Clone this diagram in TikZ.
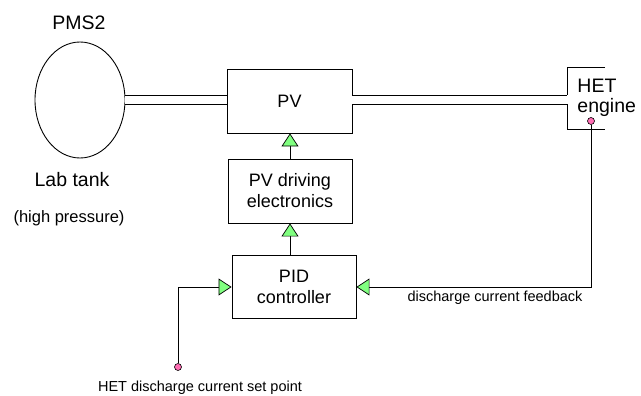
\documentclass[tikz,border=0pt]{standalone}
\usepackage{fontspec}
\setmainfont{Liberation Sans}
\usetikzlibrary{shapes.geometric,arrows.meta}
\definecolor{tappink}{RGB}{255,110,180}
\definecolor{tipgreen}{RGB}{128,255,128}

\begin{document}
\begin{tikzpicture}[x=1pt,y=-1pt,line width=0.9pt]%
        \tikzset{%
            blk/.style={draw, minimum width=125pt, minimum height=64pt, align=center, font=\fontsize{18}{21}\selectfont},
            lbl/.style={font=\fontsize{19.5}{22}\selectfont},
            sml/.style={font=\fontsize{14.5}{17}\selectfont},
            pipe/.style={double distance=8pt},
            feed/.style={-{Triangle[length=13pt,width=17pt,fill=tipgreen,line width=0.7pt]}},
            tap/.style={circle, draw, fill=tappink, inner sep=0pt, minimum size=7pt, line width=0.6pt},
        }%
        \useasboundingbox (0,0) rectangle (641,396);
        \node[ellipse, draw, minimum width=90pt, minimum height=116pt, inner sep=0pt] (tank) at (80,100) {};
        \node[blk] (pv) at (289.5,101) {PV};
        \node[blk, minimum width=124pt] (drv) at (290,191) {PV driving\\electronics};
        \node[blk, minimum width=124pt, minimum height=63pt] (pid) at (294,287) {PID\\controller};
        \coordinate (het) at (567,100);
        \node[tap] (fbtap) at (591,121) {};
        \node[tap] (sptap) at (178,367) {};
        % gas line
        \draw[pipe] (tank.east) -- (tank.east -| pv.west);
        \draw[pipe] (pv.east |- het) -- (het);
        \draw (605,67) -- (567,67) -- (567,95.5);
        \draw (567,104.5) -- (567,129) -- (605,129);
        % control loop
        \draw[feed] (drv.north) -- (drv.north |- pv.south);
        \draw[feed] (pid.north -| drv.north) -- (drv.south);
        \draw[feed] (fbtap) |- (pid.east);
        \draw[feed] (sptap) |- (pid.west);
        % labels
        \node[lbl] (pmslbl) at (79,23) {PMS2};
        \node[lbl] (tanklbl) at (72,180) {Lab tank};
        \node[font=\fontsize{16.5}{19}\selectfont] (preslbl) at (69,218) {(high pressure)};
        \node[lbl, anchor=base west, inner sep=0pt] (hetlbl) at (577,93) {HET};
        \node[lbl, anchor=base west, inner sep=0pt] (englbl) at (577,113) {engine};
        \node[sml] (fblbl) at (495,298) {discharge current feedback};
        \node[sml] (splbl) at (200,388) {HET discharge current set point};
    \end{tikzpicture}
\end{document}
